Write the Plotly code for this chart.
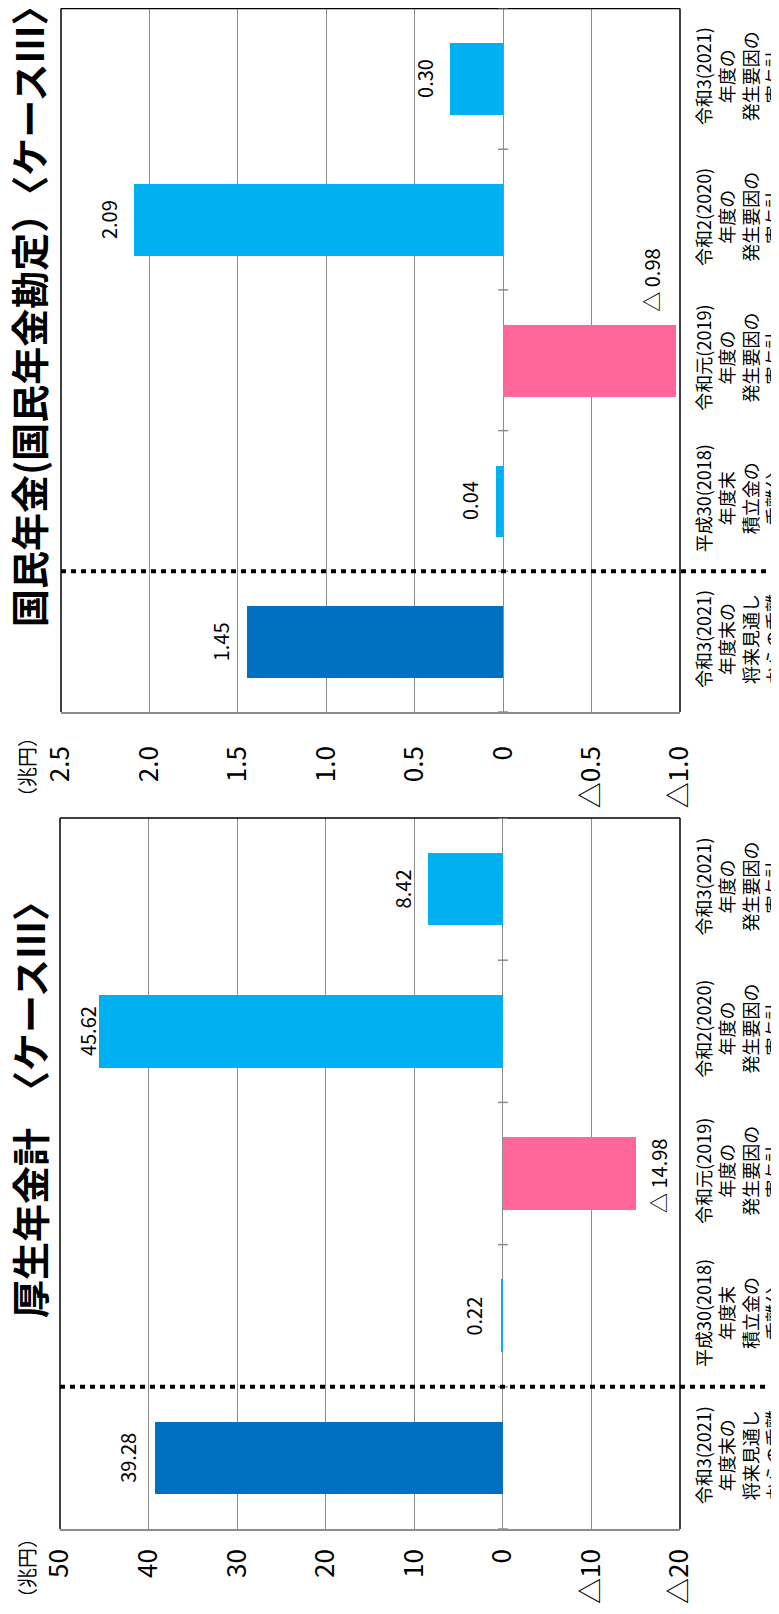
import plotly.graph_objects as go

# ---------------- data ----------------
categories = [
    "令和3(2021)<br>年度末の<br>将来見通し<br>からの乖離",
    "平成30(2018)<br>年度末<br>積立金の<br>乖離分",
    "令和元(2019)<br>年度の<br>発生要因の<br>寄与計",
    "令和2(2020)<br>年度の<br>発生要因の<br>寄与計",
    "令和3(2021)<br>年度の<br>発生要因の<br>寄与計",
]
kokumin_values = [1.45, 0.04, -0.98, 2.09, 0.30]
kosei_values = [39.28, 0.22, -14.98, 45.62, 8.42]

kokumin_tickvals = [2.5, 2.0, 1.5, 1.0, 0.5, 0, -0.5, -1.0]
kokumin_ticktext = ["2.5", "2.0", "1.5", "1.0", "0.5", "0", "△0.5", "△1.0"]
kosei_tickvals = [50, 40, 30, 20, 10, 0, -10, -20]
kosei_ticktext = ["50", "40", "30", "20", "10", "0", "△10", "△20"]

title_kokumin = "国民年金(国民年金勘定）〈ケースⅢ〉"
title_kosei = "厚生年金計　〈ケースⅢ〉"
unit_label = "（兆円）"

# ---------------- style ----------------
PAGE_W, PAGE_H = 779, 1614
OFF = 8  # default page (body) margin of the html page
W, H = PAGE_W - OFF, PAGE_H - OFF
FONT = "Noto Sans CJK JP"
DARK = "#0070C0"
LIGHT = "#00B0F0"
PINK = "#FF6699"
GRID = "#8c8c8c"

def px(x):
    return (x - OFF) / W

def py(y):
    return 1 - (y - OFF) / H

def fmt(v):
    return f"{v:.2f}" if v >= 0 else f"△ {abs(v):.2f}"

def colors_for(vals):
    out = []
    for i, v in enumerate(vals):
        if i == 0:
            out.append(DARK)
        elif v < 0:
            out.append(PINK)
        else:
            out.append(LIGHT)
    return out

# label offsets (pixels) per bar: (xshift, yshift)
kokumin_label_shift = [(-26, 0), (-26, 0), (-25, 80), (-25, 0), (-25, 0)]
kosei_label_shift = [(-27, 0), (-27, 0), (23, -3), (-11, 0), (-26, 0)]

panels = [
    dict(vals=kokumin_values, xa="x", ya="y", xdom=[px(61), px(680)], ydom=[py(712), py(8.5)],
         rng=[2.5, -1.0], tv=kokumin_tickvals, tt=kokumin_ticktext, shifts=kokumin_label_shift,
         title=title_kokumin, title_y=308, unit_y=767, dot_x0=61, standoff=22),
    dict(vals=kosei_values, xa="x2", ya="y2", xdom=[px(60), px(680)], ydom=[py(1529), py(818)],
         rng=[50, -20], tv=kosei_tickvals, tt=kosei_ticktext, shifts=kosei_label_shift,
         title=title_kosei, title_y=1101, unit_y=1568, dot_x0=60, standoff=8),
]

fig = go.Figure()
shapes = []
annotations = []
layout_axes = {}

for p in panels:
    xa, ya = p["xa"], p["ya"]
    fig.add_trace(go.Bar(
        x=p["vals"], y=categories, orientation="h", width=0.51,
        marker=dict(color=colors_for(p["vals"]), line=dict(width=0)),
        xaxis=xa, yaxis=ya, showlegend=False, hoverinfo="skip",
    ))
    xkey = "xaxis" + xa[1:]
    ykey = "yaxis" + ya[1:]
    layout_axes[xkey] = dict(
        domain=p["xdom"], anchor=ya, range=p["rng"], tickvals=p["tv"], ticktext=p["tt"],
        tickangle=-90, showgrid=True, gridcolor=GRID, gridwidth=1, zeroline=False,
        showline=True, linecolor=GRID, linewidth=1.5, ticks="", automargin=False,
        tickfont=dict(family=FONT, size=26, color="black"), ticklabelstandoff=p["standoff"],
        fixedrange=True,
    )
    layout_axes[ykey] = dict(
        domain=p["ydom"], anchor=xa, side="right", type="category",
        categoryorder="array", categoryarray=categories, range=[-0.5, 4.5],
        tickangle=-90, showgrid=False, showline=False, ticks="", zeroline=False,
        automargin=False,
        tickfont=dict(family=FONT, size=18, color="black"), ticklabelstandoff=12,
        fixedrange=True,
    )
    xd, yd = xa + " domain", ya + " domain"
    # plot-area border (left, top, right) in black
    for (x0, y0, x1, y1) in [(0, 0, 0, 1), (0, 1, 1, 1), (1, 0, 1, 1)]:
        shapes.append(dict(type="line", xref=xd, yref=yd, x0=x0, y0=y0, x1=x1, y1=y1,
                           line=dict(color="black", width=1.5)))
    # small category ticks crossing the zero line
    for k in range(-1, 5):
        shapes.append(dict(type="line", xref=xa, yref=ya, xsizemode="pixel", xanchor=0,
                           x0=-5, x1=5, y0=k + 0.5, y1=k + 0.5,
                           line=dict(color=GRID, width=1.5)))
    # dotted separator
    shapes.append(dict(type="line", xref="paper", yref=ya, x0=px(p["dot_x0"]), x1=px(768),
                       y0=0.5, y1=0.5, line=dict(color="black", width=4, dash="5px,5px")))
    # data labels
    for i, v in enumerate(p["vals"]):
        xs, ys = p["shifts"][i]
        annotations.append(dict(x=v, y=categories[i], xref=xa, yref=ya, text=fmt(v),
                                textangle=-90, showarrow=False, xshift=xs, yshift=ys,
                                xanchor="center", yanchor="middle",
                                font=dict(family=FONT, size=20, color="black")))
    # title
    annotations.append(dict(x=px(28), y=py(p["title_y"]), xref="paper", yref="paper",
                            text=p["title"], textangle=-90, showarrow=False,
                            xanchor="center", yanchor="middle",
                            font=dict(family=FONT, size=38, color="black", weight=700)))
    # unit
    annotations.append(dict(x=px(26), y=py(p["unit_y"]), xref="paper", yref="paper",
                            text=unit_label, textangle=-90, showarrow=False,
                            xanchor="center", yanchor="middle",
                            font=dict(family=FONT, size=20, color="black")))

fig.update_layout(
    template="none",
    width=W, height=H, autosize=False,
    margin=dict(l=0, r=0, t=0, b=0, pad=0),
    paper_bgcolor="white", plot_bgcolor="white",
    font=dict(family=FONT, color="black"),
    shapes=shapes, annotations=annotations, bargap=0,
    **layout_axes,
)

fig.write_html("out.html")
